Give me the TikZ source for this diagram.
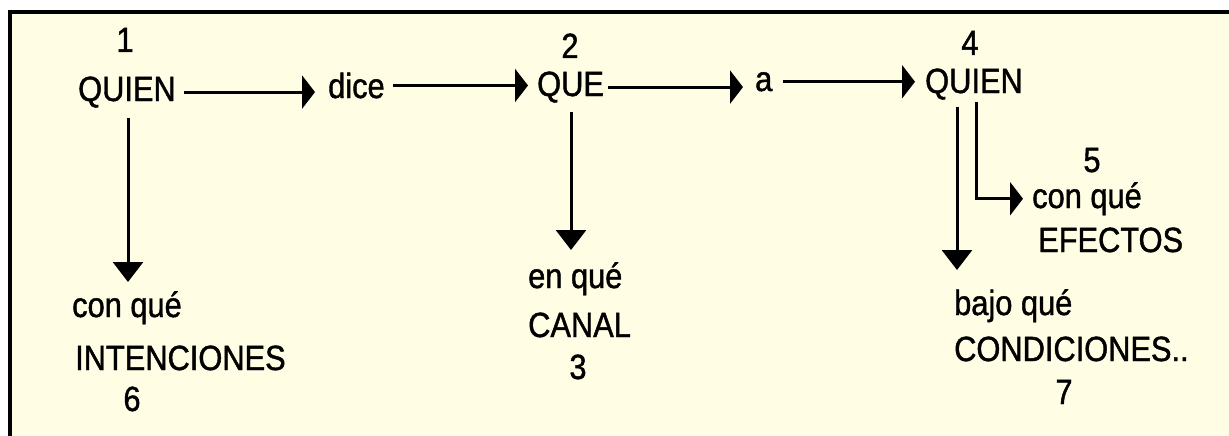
\documentclass[tikz,border=0pt]{standalone}
\usepackage{fontspec}
\setmainfont[FakeStretch=0.88,FakeBold=1.2]{Liberation Sans}
\usetikzlibrary{arrows.meta}
\definecolor{bgc}{HTML}{FFFEE4}
\begin{document}
\begin{tikzpicture}[x=1pt,y=-1pt,
  lbl/.style={inner sep=0pt, font=\fontsize{35}{40}\selectfont},
  harr/.style={line width=3pt, -{Triangle[length=13pt,width=33pt]}},
  varr/.style={line width=3pt, -{Triangle[length=20pt,width=30pt]}}]
\useasboundingbox (0,0) rectangle (1229,436);
\fill[white] (0,0) rectangle (1229,436);
\fill[bgc] (10,12) rectangle (1240,446);
\draw[line width=3.5pt] (10,446) -- (10,12) -- (1240,12);
% texts
\node[lbl, anchor=base] (n1) at (125,52) {1};
\node[lbl, anchor=base west] (q1) at (78,101) {QUIEN};
\node[lbl, anchor=base west] (dice) at (328,98) {dice};
\node[lbl, anchor=base] (n2) at (570,58) {2};
\node[lbl, anchor=base west] (que) at (537,96) {QUE};
\node[lbl, anchor=base west] (a) at (755,91) {a};
\node[lbl, anchor=base] (n4) at (970,55) {4};
\node[lbl, anchor=base west] (q4) at (925,93) {QUIEN};
\node[lbl, anchor=base] (n5) at (1092,172) {5};
\node[lbl, anchor=base west] (c5) at (1032,208) {con qué};
\node[lbl, anchor=base west] (efe) at (1038,252) {EFECTOS};
\node[lbl, anchor=base west] (c6) at (72,317) {con qué};
\node[lbl, anchor=base west] (int) at (75,370) {INTENCIONES};
\node[lbl, anchor=base] (n6) at (132,411) {6};
\node[lbl, anchor=base west] (c3) at (528,288) {en qué};
\node[lbl, anchor=base west] (can) at (528,337) {CANAL};
\node[lbl, anchor=base] (n3) at (578,379) {3};
\node[lbl, anchor=base west] (c7) at (954,315) {bajo qué};
\node[lbl, anchor=base west] (cond) at (954,361) {CONDICIONES..};
\node[lbl, anchor=base] (n7) at (1064,404) {7};
% horizontal connectors
\draw[harr] ([xshift=8pt]q1.east) -- ([xshift=-13pt]q1.east -| dice.west);
\draw[harr] ([xshift=8pt]dice.east) -- ([xshift=-9pt]dice.east -| que.west);
\draw[harr] ([xshift=4pt]que.east) -- ([xshift=-12pt]que.east -| a.west);
\draw[harr] ([xshift=10pt]a.east) -- ([xshift=-10pt]a.east -| q4.west);
% vertical connectors
\coordinate (t6) at (128,282);
\coordinate (t3) at (571,250);
\coordinate (t7) at (957,270);
\coordinate (k5) at (976,0);
\draw[varr] ([yshift=-10pt]q1.south -| t6) -- (t6);
\draw[varr] ([yshift=-9pt]que.south -| t3) -- (t3);
\draw[varr] ([yshift=-7pt]q4.south -| t7) -- (t7);
\draw[harr] ([yshift=-2pt]q4.south -| k5) |- ([xshift=-9pt]c5.west);
\end{tikzpicture}
\end{document}
